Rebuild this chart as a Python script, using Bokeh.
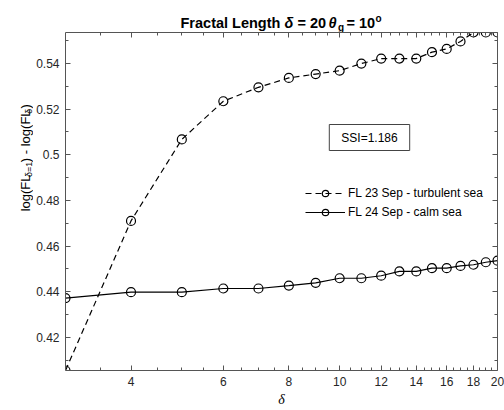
import math
from bokeh.plotting import figure
from bokeh.layouts import column, row
from bokeh.core.properties import value
from bokeh.models import (Range1d, FixedTicker, LogAxis, LinearAxis, Label, Legend,
                          LegendItem, BasicTickFormatter, CustomJSTickFormatter,
                          CustomLabelingPolicy)
from bokeh.embed import file_html
from bokeh.resources import INLINE

# ---- data ----
delta = [3, 4, 5, 6, 7, 8, 9, 10, 11, 12, 13, 14, 15, 16, 17, 18, 19, 20]
fl_23_sep = [0.4055, 0.4710, 0.5067, 0.5234, 0.5295, 0.5336, 0.5353, 0.5368, 0.5399,
             0.5421, 0.5421, 0.5421, 0.5449, 0.5463, 0.5496, 0.5535, 0.5535, 0.5535]
fl_24_sep = [0.4372, 0.4398, 0.4398, 0.4414, 0.4414, 0.4427, 0.4439, 0.4459, 0.4459,
             0.4470, 0.4489, 0.4489, 0.4503, 0.4503, 0.4513, 0.4518, 0.4529, 0.4536]
x_ticks = [4, 6, 8, 10, 12, 14, 16, 18, 20]
x_minor = [3.5, 4, 4.5, 5, 5.5, 6, 6.5, 7, 7.5, 8, 8.5, 9, 9.5, 10, 10.5, 11, 11.5, 12,
           12.5, 13, 13.5, 14, 14.5, 15, 15.5, 16, 16.5, 17, 17.5, 18, 18.5, 19, 19.5]
y_ticks = [0.42, 0.44, 0.46, 0.48, 0.50, 0.52, 0.54]
y_minor = [0.41, 0.42, 0.43, 0.44, 0.45, 0.46, 0.47, 0.48, 0.49, 0.50, 0.51, 0.52, 0.53,
           0.54, 0.55]
legend_labels = ["FL 23 Sep - turbulent sea", "FL 24 Sep - calm sea"]
ssi_text = "SSI=1.186"
x_label = "δ"

FONT = "Liberation Sans"
AX = "#555555"
TXT = "#262626"

W, H = 504, 410
TITLE_H = 32
YLAB_W = 33

# ---------------- main plot ----------------
p = figure(width=W - YLAB_W, height=H - TITLE_H, x_axis_type="log",
           x_range=Range1d(min(delta), max(delta)),
           y_range=Range1d(min(fl_23_sep), max(fl_23_sep)),
           output_backend="svg", toolbar_location=None,
           min_border_left=65 - YLAB_W, min_border_right=7, min_border_top=0,
           min_border_bottom=40)
p.title.visible = False
p.grid.visible = False
p.outline_line_color = None
p.background_fill_color = "white"
p.border_fill_color = "white"

hide_all = CustomLabelingPolicy(code="for (const i of indices) indices.unset(i); return indices")

def style_axis(ax, show_labels=True):
    ax.axis_line_color = AX
    ax.major_tick_line_color = AX
    ax.minor_tick_line_color = AX
    ax.major_tick_in = 5
    ax.major_tick_out = 0
    ax.minor_tick_in = 3
    ax.minor_tick_out = 0
    if show_labels:
        ax.major_label_text_font = FONT
        ax.major_label_text_font_size = "12px"
        ax.major_label_text_color = TXT
    else:
        ax.major_label_text_font_size = "0px"
        ax.major_label_standoff = 0
        ax.major_label_policy = hide_all

xt = FixedTicker(ticks=x_ticks, minor_ticks=x_minor)
yt = FixedTicker(ticks=y_ticks, minor_ticks=y_minor)
yfmt = CustomJSTickFormatter(code="var s = tick.toFixed(2); return s.replace(/0$/, '');")

xa = p.xaxis[0]
ya = p.yaxis[0]
xa.ticker = xt
xa.formatter = BasicTickFormatter()
ya.ticker = yt
ya.formatter = yfmt
style_axis(xa)
style_axis(ya)
xa.major_label_standoff = 6
ya.major_label_standoff = 6
xa.axis_label = x_label
xa.axis_label_text_font = "Liberation Serif"
xa.axis_label_text_font_style = "italic"
xa.axis_label_text_font_size = "14px"
xa.axis_label_text_color = "black"
xa.axis_label_standoff = 3

top = LogAxis(ticker=xt, formatter=BasicTickFormatter())
style_axis(top, False)
p.add_layout(top, "above")
right = LinearAxis(ticker=yt, formatter=yfmt)
style_axis(right, False)
p.add_layout(right, "right")

l1 = p.line(delta, fl_23_sep, line_color="black", line_width=1.2, line_dash="6 4")
s1 = p.scatter(delta, fl_23_sep, marker="circle", size=9, fill_color=None,
               line_color="black", line_width=1.2)
l2 = p.line(delta, fl_24_sep, line_color="black", line_width=1.2)
s2 = p.scatter(delta, fl_24_sep, marker="circle", size=9, fill_color=None,
               line_color="black", line_width=1.2)

legend = Legend(items=[LegendItem(label=legend_labels[0], renderers=[l1, s1]),
                       LegendItem(label=legend_labels[1], renderers=[l2, s2])],
                location=(240, 150), glyph_width=40, glyph_height=16, label_height=16,
                spacing=3, padding=0, margin=0, label_standoff=3,
                label_text_font=FONT, label_text_font_size="12px", label_text_color="black",
                border_line_alpha=0, background_fill_alpha=0)
p.add_layout(legend)

p.add_layout(Label(x=304, y=233, x_units="screen", y_units="screen", text=ssi_text,
                   text_align="center", text_baseline="middle", text_font=FONT,
                   text_font_size="12px", text_color="black",
                   border_line_color="#444444", border_line_width=1,
                   background_fill_color="white",
                   padding=dict(left=12, right=12, top=6, bottom=6)))

# ---------------- helper for text-only panels ----------------
def text_panel(w, h):
    f = figure(width=w, height=h, x_range=Range1d(0, w), y_range=Range1d(0, h),
               output_backend="svg", toolbar_location=None, min_border=0,
               x_axis_location=None, y_axis_location=None)
    f.title.visible = False
    f.grid.visible = False
    f.outline_line_color = None
    f.background_fill_color = "white"
    f.border_fill_color = "white"
    return f

def put(f, x, y, t, size, style="bold", angle=0.0, font=FONT):
    f.text(x=[x], y=[y], text=[t], text_font=value(font), text_font_size=size,
           text_font_style=style, text_color="black", text_align="left",
           text_baseline="alphabetic", angle=angle)

# ---------------- title ----------------
tf = text_panel(W, TITLE_H)
put(tf, 180, 10, "Fractal Length", "14.5px")
put(tf, 284, 10, "δ", "14.5px", "bold italic")
put(tf, 297, 10, "= 20", "14.5px")
put(tf, 328, 10, "θ", "14.5px", "bold italic")
put(tf, 337.5, 5, "g", "10px")
put(tf, 346, 10, "= 10", "14.5px")
put(tf, 375, 14, "o", "10px")

# ---------------- y-axis label ----------------
yf = text_panel(YLAB_W, H - TITLE_H)
A = math.pi / 2
put(yf, 25, 178.0, "log(FL", "13px", "normal", A)
put(yf, 28, 216.5, "δ=1", "9px", "normal", A)
put(yf, 25, 233.0, ") - log(FL", "13px", "normal", A)
put(yf, 28, 287.0, "δ", "9px", "normal", A)
put(yf, 25, 293.0, ")", "13px", "normal", A)

layout = column(tf, row(yf, p))
open("out.html", "w").write(file_html(layout, INLINE))
